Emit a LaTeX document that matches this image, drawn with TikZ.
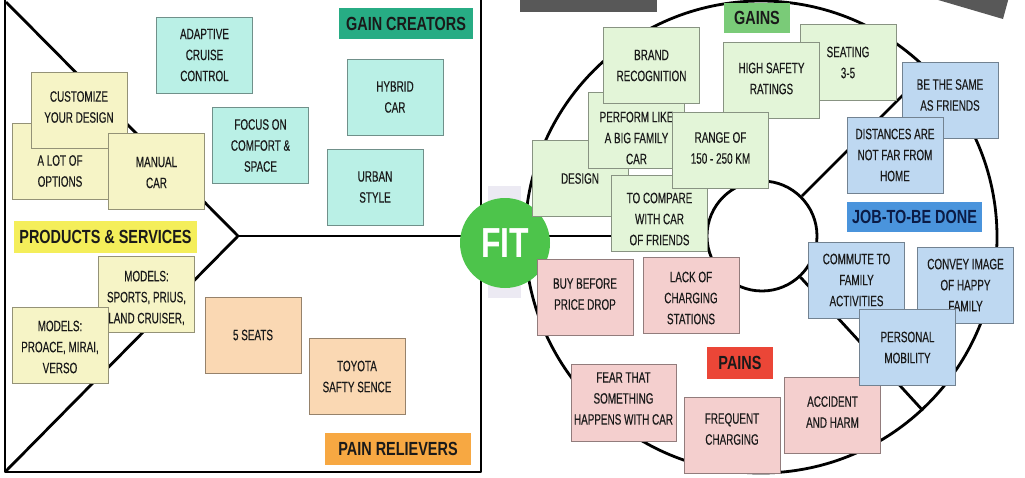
\documentclass[tikz,border=0pt]{standalone}
\usepackage{fontspec}
\setmainfont{Liberation Sans}[FakeStretch=0.66,FakeBold=0.35]
\newfontfamily\lblfont{Liberation Sans}[FakeStretch=0.76]
\usetikzlibrary{calc}
\definecolor{ybox}{HTML}{F6F4C6}
\definecolor{cbox}{HTML}{BAF0E6}
\definecolor{pbox}{HTML}{FAD8B3}
\definecolor{gbox}{HTML}{E3F5D8}
\definecolor{bbox}{HTML}{BED8F1}
\definecolor{rbox}{HTML}{F4CFCE}
\definecolor{lgain}{HTML}{27AC84}
\definecolor{lprod}{HTML}{F4EE5A}
\definecolor{lpain}{HTML}{F7A842}
\definecolor{lgains}{HTML}{7ACB78}
\definecolor{ljob}{HTML}{4A94DC}
\definecolor{lpains}{HTML}{EB4637}
\definecolor{fitg}{HTML}{4DC44B}
\definecolor{ink}{HTML}{1A1A1A}
\definecolor{navy}{HTML}{0B1B45}
\definecolor{topgrey}{HTML}{585858}
\definecolor{lav}{HTML}{ECEAF3}
\tikzset{
  stick/.style={minimum width=96pt, minimum height=76pt, inner sep=0pt, line width=0.8pt},
  sy/.style={stick, fill=ybox, draw=ybox!60!black},
  sc/.style={stick, fill=cbox, draw=cbox!60!black},
  sp/.style={stick, fill=pbox, draw=pbox!60!black},
  sg/.style={stick, fill=gbox, draw=gbox!60!black},
  sb/.style={stick, fill=bbox, draw=bbox!60!black},
  sr/.style={stick, fill=rbox, draw=rbox!60!black},
  txt/.style={align=center, font=\fontsize{15}{21}\selectfont, text=ink, inner sep=0pt},
  lbl/.style={inner sep=0pt, font=\lblfont\bfseries\fontsize{19}{19}\selectfont, text=ink},
  heavy/.style={line width=2.8pt, line join=round},
}
\newcommand\stk[6][0]{%
  \node[#2] (#3) at (#4,#5) {};
  \node[txt] (#3t) at ([yshift=#1pt]#3.center) {#6};}
\begin{document}
\begin{tikzpicture}[x=1pt,y=-1pt]
\useasboundingbox (0,0) rectangle (1025,477);
\fill[white] (0,0) rectangle (1025,477);
% faint band behind FIT
\fill[lav] (488,186) rectangle (521,298);
% left canvas
\coordinate (tl) at (6,2);
\coordinate (bl) at (6,471);
\coordinate (apex) at (238,236);
\draw[heavy] (5,-1.5) rectangle (481,472);
\draw[heavy] (tl) -- (apex) -- (bl);
% right circle
\node[circle, draw, heavy, minimum size=472pt, inner sep=0pt] (outer) at (761,237) {};
\node[circle, draw, heavy, minimum size=110pt, inner sep=0pt] (inner) at (762,236) {};
\draw[heavy] (apex) -- (inner.west);
\draw[heavy] (inner.45) -- (outer.45);
\draw[heavy] (inner.-47) -- (outer.-47);
% grey shapes at the top
\fill[topgrey] (520,-3) rectangle (657,12);
\fill[topgrey] (928,-3) -- (1009,-3) -- (1003,19) -- cycle;
% left boxes
\stk{sc}{adapt}{204.5}{55}{ADAPTIVE\\CRUISE\\CONTROL}
\stk{sc}{focus}{260.5}{145.5}{FOCUS ON\\COMFORT \&\\SPACE}
\stk{sc}{hybrid}{395}{97}{HYBRID\\CAR}
\stk{sc}{urban}{375}{187}{URBAN\\STYLE}
\stk[-10]{sy}{opts}{60}{161}{A LOT OF\\OPTIONS}
\stk[3]{sy}{custom}{79}{110}{CUSTOMIZE\\YOUR DESIGN}
\stk[-1]{sy}{manual}{156.5}{171.5}{MANUAL\\CAR}
\stk[-4]{sy}{sports}{146.5}{294}{MODELS:\\SPORTS, PRIUS,\\LAND CRUISER,}
\stk[-2]{sy}{proace}{60}{345}{MODELS:\\PROACE, MIRAI,\\VERSO}
\stk{sp}{seats}{253}{335}{5 SEATS}
\stk{sp}{toyota}{357}{376.5}{TOYOTA\\SAFTY SENCE}
\node[lbl, fill=lgain, minimum width=134pt, minimum height=31pt] (gaincr) at (406,23.5) {GAIN CREATORS};
\node[lbl, fill=lprod, minimum width=183pt, minimum height=32pt] (prodsv) at (105.5,237) {PRODUCTS \& SERVICES};
\node[lbl, fill=lpain, minimum width=146pt, minimum height=32pt] (painrl) at (398,449) {PAIN RELIEVERS};
% fit
\node[circle, fill=fitg, minimum size=90pt, inner sep=0pt, text=white,
      font=\lblfont\bfseries\fontsize{42}{42}\selectfont] (fit) at (505,243) {FIT};
% right boxes
\stk{sg}{design}{580}{178.5}{DESIGN}
\stk[-7.5]{sg}{perform}{636.5}{130.5}{PERFORM LIKE\\A BIG FAMILY\\CAR}
\stk{sg}{brand}{651.5}{65.5}{BRAND\\RECOGNITION}
\stk[-5.5]{sg}{compare}{659.5}{213.5}{TO COMPARE\\WITH CAR\\OF FRIENDS}
\stk{sg}{seating}{848}{62.5}{SEATING\\3-5}
\stk[1.5]{sg}{safety}{771.5}{80}{HIGH SAFETY\\RATINGS}
\stk[2]{sg}{range}{720.5}{150}{RANGE OF\\150 - 250 KM}
\stk[5]{sb}{same}{950}{100}{BE THE SAME\\AS FRIENDS}
\stk{sb}{dist}{895}{155}{DISTANCES ARE\\NOT FAR FROM\\HOME}
\stk{sb}{commute}{856.5}{280}{COMMUTE TO\\FAMILY\\ACTIVITIES}
\stk{sb}{convey}{965.5}{285}{CONVEY IMAGE\\OF HAPPY\\FAMILY}
\stk[3]{sr}{accident}{832.5}{415}{ACCIDENT\\AND HARM}
\stk{sb}{mobility}{907.5}{347.5}{PERSONAL\\MOBILITY}
\stk[3]{sr}{buy}{585}{297}{BUY BEFORE\\PRICE DROP}
\stk[-3]{sr}{lack}{691}{295}{LACK OF\\CHARGING\\STATIONS}
\stk[4]{sr,minimum width=105pt,minimum height=77pt}{fear}{623.5}{402.5}{FEAR THAT\\SOMETHING\\HAPPENS WITH CAR}
\stk[6]{sr}{frequent}{732}{435}{FREQUENT\\CHARGING}
\node[lbl, fill=lgains, minimum width=66pt, minimum height=30pt] (gains) at (757,18) {GAINS};
\node[lbl, fill=ljob, text=navy, minimum width=135pt, minimum height=30pt] (job) at (914.5,217) {JOB-TO-BE DONE};
\node[lbl, fill=lpains, minimum width=66pt, minimum height=32pt] (pains) at (740,363) {PAINS};
\end{tikzpicture}
\end{document}
